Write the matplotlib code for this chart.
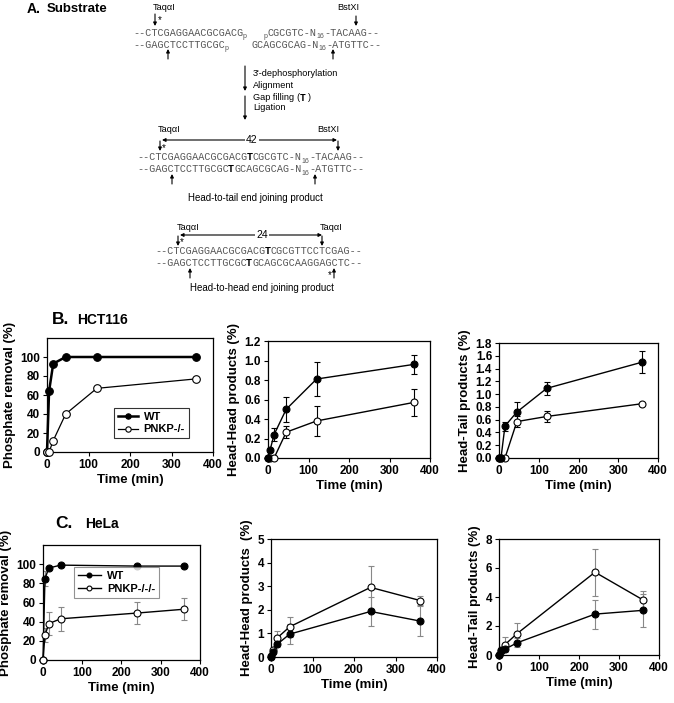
import numpy as np
import matplotlib
matplotlib.use('Agg')
import matplotlib.pyplot as plt

plt.rcParams['font.family'] = ['Liberation Sans', 'DejaVu Sans']

W, H = 674, 703

# ---- data: time (min) and percentages ----
t_b = [0, 5, 15, 45, 120, 360]
b_phos_wt = [0, 64, 93, 100, 100, 100]
b_phos_ko = [0, 0, 12, 40, 67, 77]
b_hh_wt = [0, 0.08, 0.24, 0.50, 0.81, 0.96]
b_hh_wt_err = [0, 0, 0.07, 0.13, 0.17, 0.10]
b_hh_ko = [0, 0, 0, 0.265, 0.38, 0.57]
b_hh_ko_err = [0, 0, 0, 0.06, 0.15, 0.14]
b_ht_wt = [0, 0, 0.50, 0.72, 1.09, 1.50]
b_ht_wt_err = [0, 0, 0.07, 0.15, 0.10, 0.17]
b_ht_ko = [0, 0, 0, 0.57, 0.65, 0.85]
b_ht_ko_err = [0, 0, 0, 0.09, 0.08, 0]

t_c = [0, 5, 15, 45, 240, 360]
c_phos_wt = [0, 85, 96, 99, 98, 98]
c_phos_wt_err = [0, 8, 0, 0, 0, 0]
c_phos_ko = [0, 26, 38, 43, 49, 53]
c_phos_ko_err = [0, 7, 12, 12.5, 11.5, 11.5]
c_hh_wt = [0, 0.2, 0.54, 0.97, 1.93, 1.52]
c_hh_wt_err = [0, 0, 0.1, 0.43, 0.62, 0.62]
c_hh_ko = [0.03, 0.28, 0.81, 1.28, 2.95, 2.39]
c_hh_ko_err = [0, 0.1, 0.3, 0.42, 0.9, 0.2]
c_ht_wt = [0, 0.35, 0.4, 0.84, 2.82, 3.08]
c_ht_wt_err = [0, 0, 0.1, 0.3, 1.0, 1.15]
c_ht_ko = [0, 0.26, 0.72, 1.47, 5.71, 3.8]
c_ht_ko_err = [0, 0.1, 0.5, 0.75, 1.63, 0.58]

fig = plt.figure(figsize=(W / 100, H / 100), dpi=100)

# overlay in pixel coordinates for the schematic
ov = fig.add_axes([0, 0, 1, 1])
ov.set_xlim(0, W)
ov.set_ylim(H, 0)
ov.axis('off')

GRAY = '#555555'
MONO = 'Liberation Mono'
FS = 7.3
CW = 0.6 * FS * 100 / 72  # mono advance in px


def seq(x, y, parts):
    for txt, kind in parts:
        if kind in 'nb':
            ov.text(x, y + 3.5, txt, family=MONO, fontsize=FS,
                    color=GRAY if kind == 'n' else 'k',
                    weight='bold' if kind == 'b' else 'normal', va='baseline')
            x += len(txt) * CW
        else:
            x += 0.5
            ov.text(x, y + 6, txt, fontsize=5, color=GRAY, va='baseline')
            x += len(txt) * CW * 0.6 + 0.5


def arrow(x, y0, y1, lw=0.8, ms=5):
    ov.annotate('', xy=(x, y1), xytext=(x, y0),
                arrowprops=dict(arrowstyle='-|>', lw=lw, color='k',
                                mutation_scale=ms, shrinkA=0, shrinkB=0))


def darrow(x0, x1, y, lab, xm):
    ov.annotate('', xy=(x1, y), xytext=(x0, y),
                arrowprops=dict(arrowstyle='<|-|>', lw=0.8, color='k',
                                mutation_scale=5, shrinkA=0, shrinkB=0))
    ov.text(xm, y, lab, fontsize=7.5, ha='center', va='center',
            bbox=dict(fc='white', ec='none', pad=0.5))


def star(x, y):
    ov.text(x, y, '*', fontsize=7, ha='center', va='center')


small = dict(fontsize=6.6, va='center')

# panel A
ov.text(27, 9, 'A.', fontsize=10, weight='bold', va='center')
ov.text(47, 9, 'Substrate', fontsize=9.5, weight='bold', va='center')

ov.text(153, 7, 'Taq\u03b1I', **small)
ov.text(337, 7, 'BstXI', **small)
arrow(155, 14, 26)
star(160, 20)
arrow(356, 16, 26)
seq(133, 32, [('--CTCGAGGAACGCGACG', 'n'), ('p', 's')])
seq(263, 32, [('p', 's'), ('CGCGTC-N', 'n'), ('16', 's'), ('-TACAAG--', 'n')])
seq(133, 44, [('--GAGCTCCTTGCGC', 'n'), ('p', 's')])
seq(251, 44, [('GCAGCGCAG-N', 'n'), ('16', 's'), ('-ATGTTC--', 'n')])
arrow(168, 59, 49)
arrow(333, 59, 49)

arrow(245, 66, 91)
arrow(245, 96, 120)
ov.text(253, 73, "3'-dephosphorylation", **small)
ov.text(253, 86, 'Alignment', **small)
ov.text(253, 98, 'Gap filling', **small)
ov.text(296, 98, '(', **small)
ov.text(303, 98, 'T', family=MONO, weight='bold', fontsize=7, ha='center', va='center')
ov.text(308, 98, ')', **small)
ov.text(253, 108, 'Ligation', **small)

ov.text(158, 130, 'Taq\u03b1I', **small)
ov.text(317, 130, 'BstXI', **small)
darrow(162, 337, 140, '42', 252)
arrow(160, 141, 151)
star(164, 148)
arrow(338, 141, 151)
seq(137, 157, [('--CTCGAGGAACGCGACG', 'n'), ('T', 'b'), ('CGCGTC-N', 'n'),
               ('16', 's'), ('-TACAAG--', 'n')])
seq(137, 169, [('--GAGCTCCTTGCGC', 'n'), ('T', 'b'), ('GCAGCGCAG-N', 'n'),
               ('16', 's'), ('-ATGTTC--', 'n')])
arrow(172, 184, 174)
arrow(315, 184, 174)
ov.text(255, 198, 'Head-to-tail end joining product', fontsize=7, ha='center', va='center')

ov.text(177, 227, 'Taq\u03b1I', **small)
ov.text(320, 227, 'Taq\u03b1I', **small)
darrow(180, 322, 235, '24', 262)
arrow(178, 236, 246)
star(182, 242)
arrow(322, 236, 246)
seq(155, 250, [('--CTCGAGGAACGCGACG', 'n'), ('T', 'b'), ('CGCGTTCCTCGAG--', 'n')])
seq(155, 263, [('--GAGCTCCTTGCGC', 'n'), ('T', 'b'), ('GCAGCGCAAGGAGCTC--', 'n')])
arrow(190, 278, 268)
arrow(334, 278, 268)
star(330, 275)
ov.text(262, 288, 'Head-to-head end joining product', fontsize=7, ha='center', va='center')

# section headers
ov.text(52, 319, 'B.', fontsize=12.5, weight='bold', va='center')
ov.text(77, 320, 'HCT116', fontsize=10, weight='bold', va='center')
ov.text(55, 523, 'C.', fontsize=12.5, weight='bold', va='center')
ov.text(85, 524, 'HeLa', fontsize=10, weight='bold', va='center')


def mkax(l, r, t, b):
    return fig.add_axes([l / W, 1 - b / H, (r - l) / W, (b - t) / H])


def style(ax, ylim, yticks, fmt, ylabel, xlabel):
    ax.set_xlim(0, 400)
    ax.set_ylim(*ylim)
    ax.set_xticks([0, 100, 200, 300, 400])
    ax.set_yticks(yticks)
    ax.set_yticklabels([fmt.format(v) for v in yticks])
    ax.tick_params(direction='out', length=3, width=0.8, labelsize=8.5, pad=2)
    for lab in ax.get_xticklabels() + ax.get_yticklabels():
        lab.set_fontweight('bold')
    for s in ax.spines.values():
        s.set_linewidth(0.9)
    ax.set_ylabel(ylabel, fontsize=9.5, weight='bold', labelpad=3)
    if xlabel:
        ax.set_xlabel('Time (min)', fontsize=9.5, weight='bold', labelpad=2)


def series(ax, t, y, err, filled, lw=1.0, ms=5, ecol='k', label=None):
    fc = 'k' if filled else 'white'
    if err is not None:
        ax.errorbar(t, y, yerr=err, fmt='none', ecolor=ecol, elinewidth=0.8,
                    capsize=2.2, capthick=0.8, zorder=2)
    ax.plot(t, y, '-o', color='k', lw=lw, ms=ms, mfc=fc, mec='k', mew=0.8,
            clip_on=False, zorder=3, label=label)


# row B
ax = mkax(47, 213, 338, 452)
series(ax, t_b, b_phos_wt, None, True, lw=1.8, ms=5.5, label='WT')
series(ax, t_b, b_phos_ko, None, False, lw=0.9, ms=5.5, label='PNKP-/-')
style(ax, (0, 120), range(0, 101, 20), '{:d}', 'Phosphate removal (%)', True)
leg = ax.legend(loc='lower right', bbox_to_anchor=(0.855, 0.12), fancybox=False,
                edgecolor='k', handlelength=1.8, borderpad=0.35, markerscale=0.7,
                labelspacing=0.25, handletextpad=0.5, borderaxespad=0,
                prop=dict(weight='bold', size=8))
leg.get_frame().set_linewidth(0.8)

ax = mkax(268, 430, 341, 458)
series(ax, t_b, b_hh_ko, b_hh_ko_err, False)
series(ax, t_b, b_hh_wt, b_hh_wt_err, True)
style(ax, (0, 1.2), np.arange(0, 1.21, 0.2), '{:.1f}', 'Head-Head products (%)', True)

ax = mkax(499, 658, 343, 458)
series(ax, t_b, b_ht_ko, b_ht_ko_err, False)
series(ax, t_b, b_ht_wt, b_ht_wt_err, True)
style(ax, (0, 1.8), np.arange(0, 1.81, 0.2), '{:.1f}', 'Head-Tail products (%)', True)

# row C
ax = mkax(43, 200, 545, 660)
series(ax, t_c, c_phos_wt, c_phos_wt_err, True, ecol='#888888', label='WT')
series(ax, t_c, c_phos_ko, c_phos_ko_err, False, ecol='#888888', label='PNKP-/-/-')
style(ax, (0, 120), range(0, 101, 20), '{:d}', 'Phosphate removal (%)', True)
leg = ax.legend(loc='upper left', bbox_to_anchor=(0.2, 0.81), fancybox=False,
                edgecolor='#777777', handlelength=2.0, borderpad=0.35, markerscale=0.7,
                labelspacing=0.3, handletextpad=0.6, borderaxespad=0,
                prop=dict(weight='bold', size=8))
leg.get_frame().set_linewidth(0.8)

ax = mkax(271, 437, 539, 657)
series(ax, t_c, c_hh_ko, c_hh_ko_err, False, ecol='#888888')
series(ax, t_c, c_hh_wt, c_hh_wt_err, True, ecol='#888888')
style(ax, (0, 5), range(0, 6), '{:d}', 'Head-Head products  (%)', True)

ax = mkax(499, 659, 539, 655)
series(ax, t_c, c_ht_ko, c_ht_ko_err, False, ecol='#888888')
series(ax, t_c, c_ht_wt, c_ht_wt_err, True, ecol='#888888')
style(ax, (0, 8), range(0, 9, 2), '{:d}', 'Head-Tail products (%)', True)

fig.savefig('out.png', dpi=100)
